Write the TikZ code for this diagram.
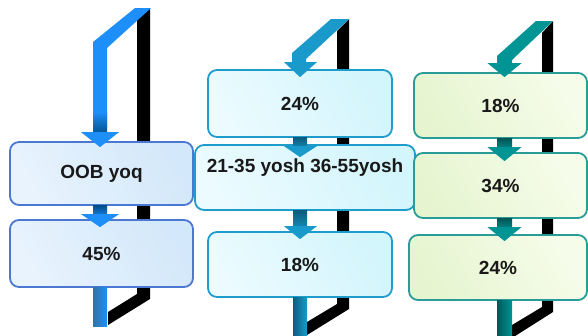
\documentclass[tikz,border=0pt]{standalone}
\usepackage{fontspec}
\setmainfont{Liberation Sans}
\usetikzlibrary{calc}

% column palettes: arrow colour, dark arrow shade, box border, box fills
\definecolor{bluA}{HTML}{1E8EF8}
\definecolor{bluD}{HTML}{00508C}
\definecolor{bluB}{HTML}{4A78D2}
\definecolor{bluF1}{HTML}{E8F3FD}
\definecolor{bluF2}{HTML}{D3E8FA}
\definecolor{cyaA}{HTML}{1A9ACB}
\definecolor{cyaD}{HTML}{0B5E7E}
\definecolor{cyaB}{HTML}{1E9CCC}
\definecolor{cyaF1}{HTML}{EBFBFF}
\definecolor{cyaF2}{HTML}{D3F5FC}
\definecolor{telA}{HTML}{009494}
\definecolor{telD}{HTML}{005858}
\definecolor{telB}{HTML}{2A9C98}
\definecolor{telF1}{HTML}{F6FCEA}
\definecolor{telF2}{HTML}{E6F5D0}

\begin{document}
\begin{tikzpicture}[x=1pt,y=-1pt,
  box/.style={draw, line width=1.8pt, rounded corners=9pt, inner sep=0pt,
    font=\fontsize{19}{23}\selectfont\bfseries, text=black!90, align=center},
  boxA/.style={box, draw=bluB, left color=bluF1, right color=bluF2, shading angle=120},
  boxB/.style={box, draw=cyaB, left color=cyaF1, right color=cyaF2, shading angle=120},
  boxC/.style={box, draw=telB, left color=telF2, right color=telF1, shading angle=120},
  bar/.style={fill=black}]
\useasboundingbox (0,0) rectangle (588,335);

% stem axes of the three columns
\coordinate (s1) at (100,0);
\coordinate (s2) at (300,0);
\coordinate (s3) at (504.5,0);

% black return bars behind each column
\fill[bar] (137,20) -- (150,8) -- (150,299) -- (108,325) -- (108,312) -- (137,294) -- cycle;
\fill[bar] (337,31) -- (349,19) -- (349,309) -- (307,335) -- (307,322) -- (337,304) -- cycle;
\fill[bar] (542,33) -- (553,21) -- (553,312) -- (512,338) -- (512,325) -- (542,307) -- cycle;

% feeder arrows entering each column from the top
\fill[bluA] (93,128) -- (93,42) -- (135,8) -- (151,8) -- (107,48) -- (107,128) -- cycle;
\shade[top color=bluA, bottom color=bluD] (93,112) rectangle (107,134);
\fill[cyaA] (292,64) -- (292,53) -- (331,19) -- (349,19) -- (306,59) -- (306,64) -- cycle;
\fill[telA] (497,65) -- (497,56) -- (536,21) -- (553,21) -- (512,60) -- (512,65) -- cycle;

% boxes
\node[boxA, minimum width=183pt, minimum height=63pt] (a1) at (101.5,173.5) {OOB yoq};
\node[boxA, minimum width=183pt, minimum height=67pt] (a2) at (101.5,253.5) {45\%};

\node[boxB, minimum width=184pt, minimum height=67pt] (b1) at (300,103.5) {24\%};
\node[boxB, minimum width=220pt, minimum height=65pt] (b2) at (305,177.5) {21-35 yosh 36-55yosh\\ \mbox{}};
\node[boxB, minimum width=184pt, minimum height=65pt] (b3) at (300,264.5) {18\%};

\node[boxC, minimum width=173pt, minimum height=65pt] (c1) at (500.5,105.5) {18\%};
\node[boxC, minimum width=173pt, minimum height=65pt] (c2) at (500.5,185.5) {34\%};
\node[boxC, minimum width=178pt, minimum height=65pt] (c3) at (498,267.5) {24\%};

% arrow heads on the feeders
\fill[bluA] ($(a1.north -| s1)+(-19,-9)$) -- ($(a1.north -| s1)+(19,-9)$) -- ($(a1.north -| s1)+(0,6)$) -- cycle;
\fill[cyaA] ($(b1.north -| s2)+(-16,-7)$) -- ($(b1.north -| s2)+(17,-7)$) -- ($(b1.north -| s2)+(0,8)$) -- cycle;
\fill[telA] ($(c1.north -| s3)+(-17,-9)$) -- ($(c1.north -| s3)+(17,-9)$) -- ($(c1.north -| s3)+(0,5)$) -- cycle;

% block arrows from box to box
\shade[top color=bluD, bottom color=bluA!70!bluD] ($(a1.south -| s1)+(-7,0)$) rectangle ($(a2.north -| s1)+(7,-4)$);
\fill[bluA] ($(a2.north -| s1)+(-19,-5)$) -- ($(a2.north -| s1)+(19,-5)$) -- ($(a2.north -| s1)+(0,8)$) -- cycle;

\shade[top color=cyaD, bottom color=cyaA!70!cyaD] ($(b1.south -| s2)+(-7,0)$) rectangle ($(b2.north -| s2)+(7,4)$);
\fill[cyaA] ($(b2.north -| s2)+(-16,2)$) -- ($(b2.north -| s2)+(17,2)$) -- ($(b2.north -| s2)+(0,13)$) -- cycle;
\shade[top color=cyaD, bottom color=cyaA!70!cyaD] ($(b2.south -| s2)+(-7,0)$) rectangle ($(b3.north -| s2)+(7,-4)$);
\fill[cyaA] ($(b3.north -| s2)+(-16,-5)$) -- ($(b3.north -| s2)+(17,-5)$) -- ($(b3.north -| s2)+(0,8)$) -- cycle;

\shade[top color=telD, bottom color=telA!70!telD] ($(c1.south -| s3)+(-7.5,0)$) rectangle ($(c2.north -| s3)+(7.5,-4)$);
\fill[telA] ($(c2.north -| s3)+(-17,-5)$) -- ($(c2.north -| s3)+(17,-5)$) -- ($(c2.north -| s3)+(0,9)$) -- cycle;
\shade[top color=telD, bottom color=telA!70!telD] ($(c2.south -| s3)+(-7.5,0)$) rectangle ($(c3.north -| s3)+(7.5,-6)$);
\fill[telA] ($(c3.north -| s3)+(-17,-7)$) -- ($(c3.north -| s3)+(17,-7)$) -- ($(c3.north -| s3)+(0,7)$) -- cycle;

% outgoing stems at the bottom
\coordinate (e1) at (100,326);
\coordinate (e2) at (300,335);
\coordinate (e3) at (504.5,335);
\shade[left color=bluD!80, right color=bluA] ($(a2.south -| s1)+(-7,0)$) rectangle ($(e1)+(7,0)$);
\shade[left color=cyaD, right color=cyaA] ($(b3.south -| s2)+(-7,0)$) rectangle ($(e2)+(7,0)$);
\shade[left color=telD, right color=telA] ($(c3.south -| s3)+(-7.5,0)$) rectangle ($(e3)+(7.5,0)$);
\end{tikzpicture}
\end{document}
